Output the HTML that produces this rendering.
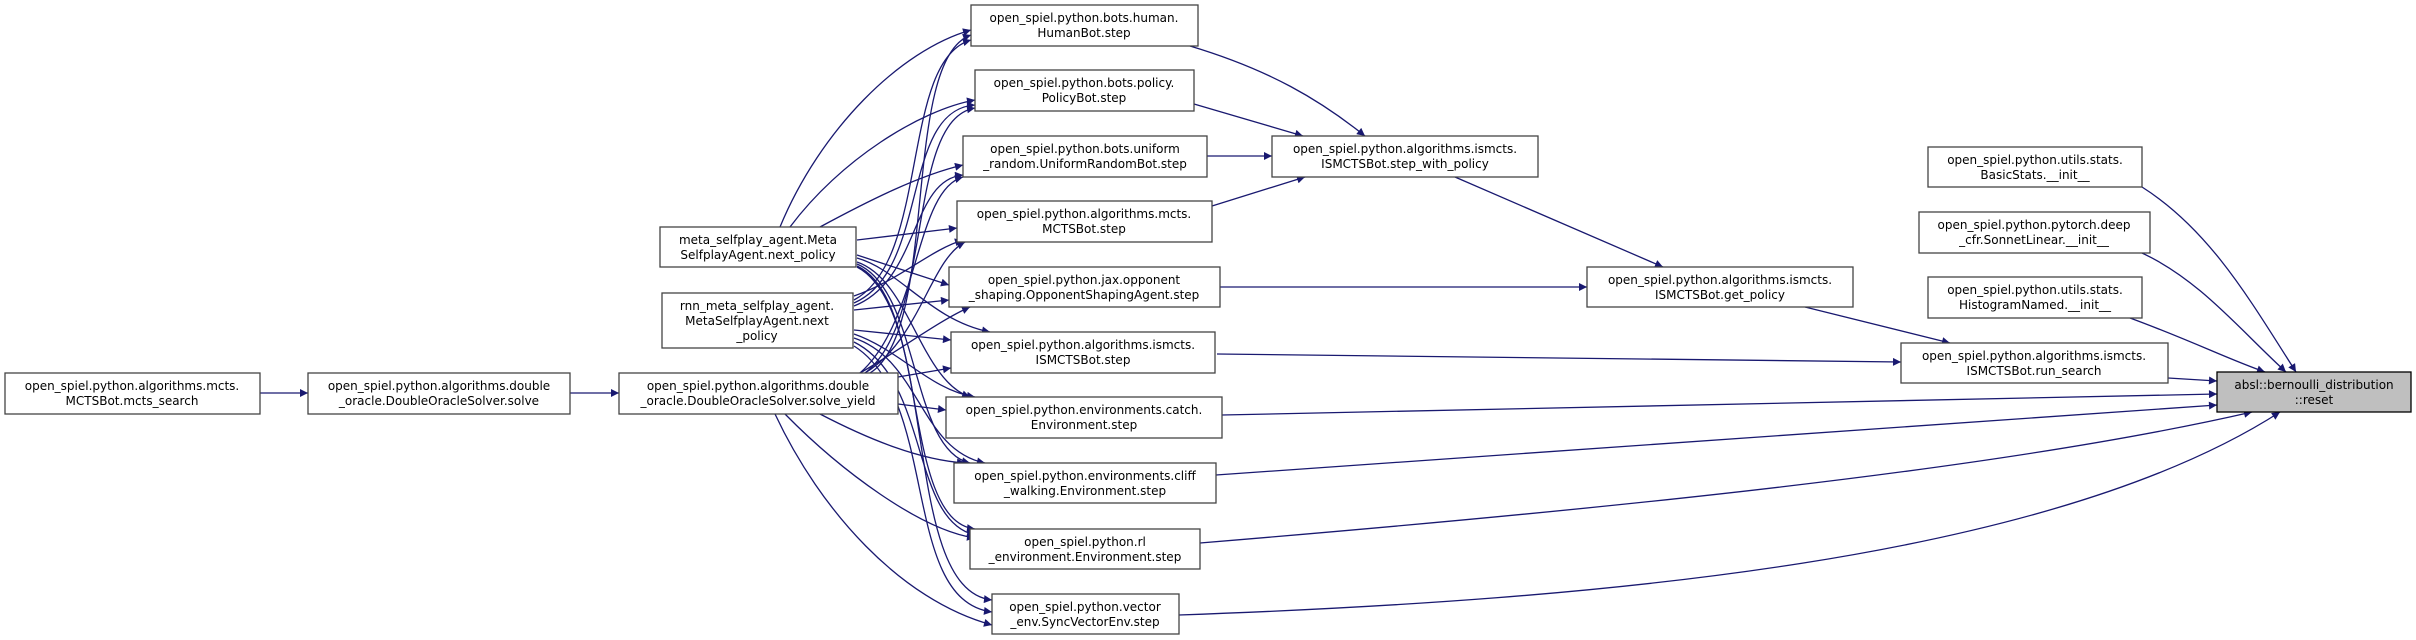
<!DOCTYPE html>
<html><head><meta charset="utf-8"><style>
html,body{margin:0;padding:0;background:#fff;}
svg{display:block;}
text{font-family:"DejaVu Sans","Liberation Sans",sans-serif;font-size:12px;fill:#000;}
.n{fill:#fff;stroke:#444;stroke-width:1.3;}
.e{fill:none;stroke:#191970;stroke-width:1.3;marker-end:url(#a);}
</style></head><body>
<svg width="2416" height="640" viewBox="0 0 2416 640" xmlns="http://www.w3.org/2000/svg">
<defs><marker id="a" viewBox="0 0 10 10" refX="10" refY="5" markerWidth="10" markerHeight="8" markerUnits="userSpaceOnUse" orient="auto"><path d="M0,0 L10,5 L0,10 z" fill="#191970"/></marker></defs>

<!-- left chain -->
<path class="e" d="M260,393 L308,393"/>
<path class="e" d="M570,393 L619,393"/>

<!-- meta -> middle -->
<path class="e" d="M780,227 C820,130 900,50 971,30"/>
<path class="e" d="M790,227 C840,160 920,110 975,100"/>
<path class="e" d="M820,227 C870,200 920,175 963,165"/>
<path class="e" d="M857,240 L957,228"/>
<path class="e" d="M857,255 L949,285"/>
<path class="e" d="M857,258 C900,270 930,320 990,332"/>
<path class="e" d="M857,262 C910,280 920,380 970,397"/>
<path class="e" d="M857,264 C920,290 910,450 970,463"/>
<path class="e" d="M857,266 C930,300 900,520 975,529"/>
<path class="e" d="M857,267 C940,310 900,590 992,600"/>

<!-- rnn -> middle -->
<path class="e" d="M854,300 C930,260 900,60 971,40"/>
<path class="e" d="M854,303 C930,270 900,110 975,105"/>
<path class="e" d="M854,306 C920,280 910,180 963,175"/>
<path class="e" d="M854,296 C900,280 930,250 963,240"/>
<path class="e" d="M854,310 L949,300"/>
<path class="e" d="M854,330 L951,340"/>
<path class="e" d="M854,334 C900,350 930,390 975,397"/>
<path class="e" d="M854,338 C920,360 920,450 985,463"/>
<path class="e" d="M854,342 C930,380 910,520 975,535"/>
<path class="e" d="M854,346 C940,400 900,600 992,612"/>

<!-- solve_yield -> middle -->
<path class="e" d="M870,373 C940,330 900,60 971,35"/>
<path class="e" d="M865,373 C935,320 905,120 975,108"/>
<path class="e" d="M860,373 C920,320 915,190 963,177"/>
<path class="e" d="M865,373 C920,340 930,260 965,242"/>
<path class="e" d="M860,373 C900,350 940,320 970,307"/>
<path class="e" d="M898,377 L951,368"/>
<path class="e" d="M898,404 L946,410"/>
<path class="e" d="M820,414 C870,440 920,460 965,463"/>
<path class="e" d="M785,414 C840,470 920,530 975,538"/>
<path class="e" d="M775,414 C820,510 900,600 992,625"/>

<!-- middle -> right -->
<path class="e" d="M1190,46 C1270,70 1320,100 1365,136"/>
<path class="e" d="M1194,104 L1303,136"/>
<path class="e" d="M1207,156 L1272,156"/>
<path class="e" d="M1212,206 L1305,177"/>
<path class="e" d="M1455,177 L1663,267"/>
<path class="e" d="M1220,287 L1587,287"/>
<path class="e" d="M1805,307 L1950,343"/>
<path class="e" d="M1217,354 L1901,362"/>
<path class="e" d="M2168,378 L2217,381"/>
<path class="e" d="M1222,415 L2217,394"/>
<path class="e" d="M1216,475 L2217,405"/>
<path class="e" d="M1200,543 C1600,510 2000,470 2252,412"/>
<path class="e" d="M1179,615 C1600,600 2050,560 2280,412"/>
<path class="e" d="M2142,187 C2210,230 2250,300 2296,372"/>
<path class="e" d="M2142,253 C2200,280 2240,330 2286,372"/>
<path class="e" d="M2130,318 C2190,340 2230,360 2265,372"/>

<!-- nodes -->
<rect class="n" x="5" y="373" width="255" height="41"/>
<text x="132" y="390" text-anchor="middle">open_spiel.python.algorithms.mcts.</text>
<text x="132" y="405" text-anchor="middle">MCTSBot.mcts_search</text>

<rect class="n" x="308" y="373" width="262" height="41"/>
<text x="439" y="390" text-anchor="middle">open_spiel.python.algorithms.double</text>
<text x="439" y="405" text-anchor="middle">_oracle.DoubleOracleSolver.solve</text>

<rect class="n" x="619" y="373" width="279" height="41"/>
<text x="758" y="390" text-anchor="middle">open_spiel.python.algorithms.double</text>
<text x="758" y="405" text-anchor="middle">_oracle.DoubleOracleSolver.solve_yield</text>

<rect class="n" x="660" y="227" width="196" height="40"/>
<text x="758" y="244" text-anchor="middle">meta_selfplay_agent.Meta</text>
<text x="758" y="259" text-anchor="middle">SelfplayAgent.next_policy</text>

<rect class="n" x="662" y="293" width="191" height="55"/>
<text x="757" y="310" text-anchor="middle">rnn_meta_selfplay_agent.</text>
<text x="757" y="325" text-anchor="middle">MetaSelfplayAgent.next</text>
<text x="757" y="340" text-anchor="middle">_policy</text>

<rect class="n" x="971" y="5" width="227" height="41"/>
<text x="1084" y="22" text-anchor="middle">open_spiel.python.bots.human.</text>
<text x="1084" y="37" text-anchor="middle">HumanBot.step</text>

<rect class="n" x="975" y="70" width="219" height="41"/>
<text x="1084" y="87" text-anchor="middle">open_spiel.python.bots.policy.</text>
<text x="1084" y="102" text-anchor="middle">PolicyBot.step</text>

<rect class="n" x="963" y="136" width="244" height="41"/>
<text x="1085" y="153" text-anchor="middle">open_spiel.python.bots.uniform</text>
<text x="1085" y="168" text-anchor="middle">_random.UniformRandomBot.step</text>

<rect class="n" x="957" y="201" width="255" height="41"/>
<text x="1084" y="218" text-anchor="middle">open_spiel.python.algorithms.mcts.</text>
<text x="1084" y="233" text-anchor="middle">MCTSBot.step</text>

<rect class="n" x="949" y="267" width="271" height="40"/>
<text x="1084" y="284" text-anchor="middle">open_spiel.python.jax.opponent</text>
<text x="1084" y="299" text-anchor="middle">_shaping.OpponentShapingAgent.step</text>

<rect class="n" x="951" y="332" width="264" height="41"/>
<text x="1083" y="349" text-anchor="middle">open_spiel.python.algorithms.ismcts.</text>
<text x="1083" y="364" text-anchor="middle">ISMCTSBot.step</text>

<rect class="n" x="946" y="397" width="276" height="41"/>
<text x="1084" y="414" text-anchor="middle">open_spiel.python.environments.catch.</text>
<text x="1084" y="429" text-anchor="middle">Environment.step</text>

<rect class="n" x="954" y="463" width="262" height="40"/>
<text x="1085" y="480" text-anchor="middle">open_spiel.python.environments.cliff</text>
<text x="1085" y="495" text-anchor="middle">_walking.Environment.step</text>

<rect class="n" x="970" y="529" width="230" height="40"/>
<text x="1085" y="546" text-anchor="middle">open_spiel.python.rl</text>
<text x="1085" y="561" text-anchor="middle">_environment.Environment.step</text>

<rect class="n" x="992" y="594" width="187" height="40"/>
<text x="1085" y="611" text-anchor="middle">open_spiel.python.vector</text>
<text x="1085" y="626" text-anchor="middle">_env.SyncVectorEnv.step</text>

<rect class="n" x="1272" y="136" width="266" height="41"/>
<text x="1405" y="153" text-anchor="middle">open_spiel.python.algorithms.ismcts.</text>
<text x="1405" y="168" text-anchor="middle">ISMCTSBot.step_with_policy</text>

<rect class="n" x="1587" y="267" width="266" height="40"/>
<text x="1720" y="284" text-anchor="middle">open_spiel.python.algorithms.ismcts.</text>
<text x="1720" y="299" text-anchor="middle">ISMCTSBot.get_policy</text>

<rect class="n" x="1901" y="343" width="267" height="40"/>
<text x="2034" y="360" text-anchor="middle">open_spiel.python.algorithms.ismcts.</text>
<text x="2034" y="375" text-anchor="middle">ISMCTSBot.run_search</text>

<rect class="n" x="1928" y="147" width="214" height="40"/>
<text x="2035" y="164" text-anchor="middle">open_spiel.python.utils.stats.</text>
<text x="2035" y="179" text-anchor="middle">BasicStats.__init__</text>

<rect class="n" x="1919" y="212" width="231" height="41"/>
<text x="2034" y="229" text-anchor="middle">open_spiel.python.pytorch.deep</text>
<text x="2034" y="244" text-anchor="middle">_cfr.SonnetLinear.__init__</text>

<rect class="n" x="1928" y="277" width="214" height="41"/>
<text x="2035" y="294" text-anchor="middle">open_spiel.python.utils.stats.</text>
<text x="2035" y="309" text-anchor="middle">HistogramNamed.__init__</text>

<rect x="2217" y="372" width="194" height="40" fill="#bfbfbf" stroke="#000" stroke-width="1.3"/>
<text x="2314" y="389" text-anchor="middle">absl::bernoulli_distribution</text>
<text x="2314" y="404" text-anchor="middle">::reset</text>
</svg>
</body></html>
